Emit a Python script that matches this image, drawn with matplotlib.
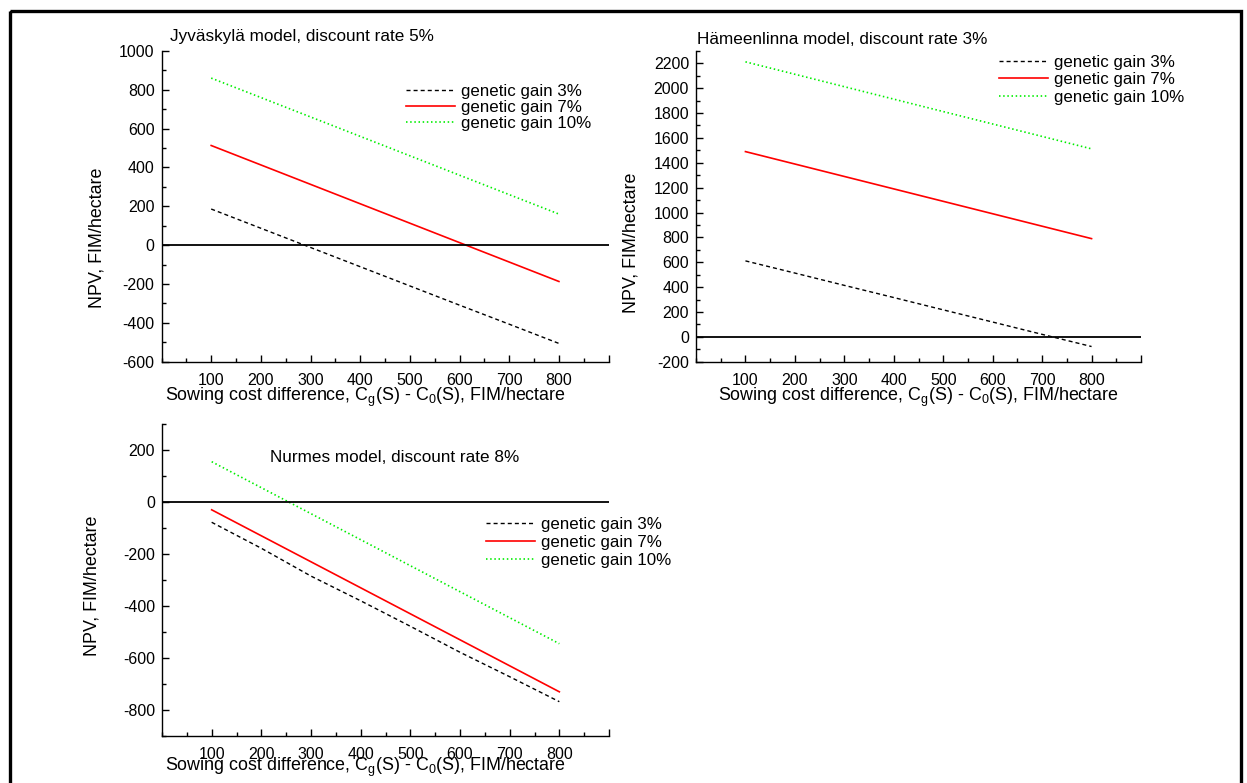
import matplotlib
matplotlib.use("Agg")
import matplotlib.pyplot as plt
from matplotlib.patches import Rectangle
from matplotlib.ticker import MultipleLocator, FixedLocator

plt.rcParams['font.family'] = ['Liberation Sans', 'DejaVu Sans']
plt.rcParams['axes.unicode_minus'] = False

# sowing cost difference, FIM/hectare
cost = [100, 200, 300, 400, 500, 600, 700, 800]
gain_labels = ['genetic gain 3%', 'genetic gain 7%', 'genetic gain 10%']

# NPV, FIM/hectare
jyv_gain3 = [186, 87, -12, -111, -210, -309, -407, -506]
jyv_gain7 = [513, 413, 313, 213, 113, 13, -87, -187]
jyv_gain10 = [860, 760, 660, 560, 460, 360, 260, 160]

ham_gain3 = [611, 513, 414, 316, 217, 119, 20, -78]
ham_gain7 = [1490, 1390, 1290, 1190, 1090, 990, 890, 790]
ham_gain10 = [2212, 2112, 2012, 1912, 1812, 1712, 1612, 1512]

nur_gain3 = [-78, -178, -285, -380, -478, -578, -672, -768]
nur_gain7 = [-30, -130, -230, -330, -430, -530, -630, -730]
nur_gain10 = [155, 55, -45, -145, -245, -345, -445, -545]

W, H = 1247, 783
fig = plt.figure(figsize=(W / 100, H / 100), dpi=100)


def px(x, y):
    return x / W, 1 - y / H


def panel(rect, g3, g7, g10, ylim, yticks, title, title_xy,
          legend_xy, legend_gap, ylabel_xy, xlabel_xy):
    left, top, right, bottom = rect
    ax = fig.add_axes([left / W, 1 - bottom / H, (right - left) / W, (bottom - top) / H])
    ax.plot(cost, g3, color='black', lw=1.0, ls=(0, (2.9, 2.2)), label=gain_labels[0])
    ax.plot(cost, g7, color='#ff0000', lw=1.2, label=gain_labels[1])
    ax.plot(cost, g10, color='#00ee00', lw=1.2, ls=(0, (0.9, 1.6)), label=gain_labels[2])
    ax.axhline(0, color='black', lw=1.3)

    ax.set_xlim(0, 900)
    ax.set_ylim(*ylim)
    ax.xaxis.set_major_locator(FixedLocator(cost + [900]))
    ax.set_xticklabels([str(c) for c in cost] + [''])
    ax.xaxis.set_minor_locator(MultipleLocator(50))
    ax.yaxis.set_major_locator(FixedLocator(yticks))
    ax.yaxis.set_minor_locator(MultipleLocator(100))
    ax.tick_params(which='both', direction='in', width=1.0, labelsize=11.5)
    ax.tick_params(which='major', length=5)
    ax.tick_params(which='minor', length=3)
    ax.tick_params(axis='x', pad=8)
    ax.tick_params(axis='y', pad=5)
    for s in ['top', 'right']:
        ax.spines[s].set_visible(False)
    for s in ['left', 'bottom']:
        ax.spines[s].set_linewidth(1.0)

    fig.text(*px(*title_xy), title, fontsize=12.3, ha='left', va='center')
    fig.text(*px(*ylabel_xy), 'NPV, FIM/hectare', fontsize=12.9, rotation=90,
             ha='center', va='center')
    fig.text(*px(*xlabel_xy),
             'Sowing cost difference, C$_\\mathregular{g}$(S) - C$_\\mathregular{0}$(S), FIM/hectare',
             fontsize=12.9, ha='center', va='center')

    ax.legend(loc='upper left', bbox_to_anchor=px(*legend_xy), bbox_transform=fig.transFigure,
              frameon=False, fontsize=12.2, handlelength=2.9, handletextpad=0.33,
              labelspacing=legend_gap, borderpad=0, borderaxespad=0)
    return ax


panel((161.5, 50.9, 608.6, 361.7), jyv_gain3, jyv_gain7, jyv_gain10,
      (-600, 1000), list(range(-600, 1001, 200)),
      'Jyväskylä model, discount rate 5%', (170, 36),
      (406, 84), 0.07, (97, 238), (365, 397))

panel((696, 50.9, 1141, 361.7), ham_gain3, ham_gain7, ham_gain10,
      (-200, 2300), list(range(-200, 2201, 200)),
      'Hämeenlinna model, discount rate 3%', (697, 40),
      (999, 55), 0.14, (631, 243), (918, 397))

panel((162, 424, 609, 736), nur_gain3, nur_gain7, nur_gain10,
      (-900, 300), list(range(-800, 201, 200)),
      'Nurmes model, discount rate 8%', (270, 457),
      (486, 516.5), 0.18, (91.5, 586), (365, 767))

# frame round the whole figure
fig.patches.append(Rectangle(px(10, 10.5), (1241 - 10) / W, -(900 / H),
                             transform=fig.transFigure, fill=False,
                             edgecolor='black', lw=2.4))

fig.savefig('out.png', dpi=100)
